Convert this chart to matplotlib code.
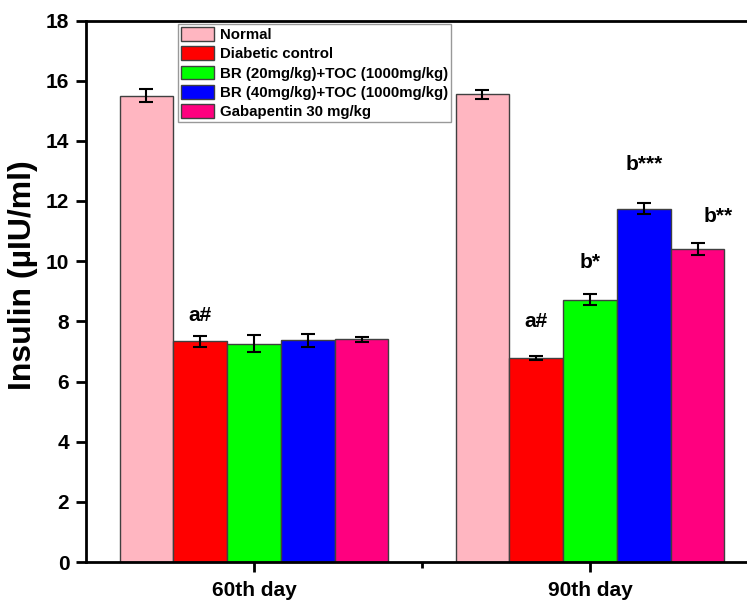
import numpy as np
import matplotlib.pyplot as plt

plt.rcParams['font.family'] = ['Liberation Sans', 'DejaVu Sans']
plt.rcParams['font.weight'] = 'bold'

# data
days = ['60th day', '90th day']
groups = ['Normal', 'Diabetic control', 'BR (20mg/kg)+TOC (1000mg/kg)',
          'BR (40mg/kg)+TOC (1000mg/kg)', 'Gabapentin 30 mg/kg']
colors = ['#FFB6C1', '#FF0000', '#00FF00', '#0000FF', '#FF007F']
means = [[15.50, 15.55],
         [7.34, 6.78],
         [7.26, 8.72],
         [7.37, 11.75],
         [7.40, 10.42]]
errs = [[0.22, 0.15],
        [0.18, 0.07],
        [0.28, 0.18],
        [0.22, 0.18],
        [0.08, 0.20]]
# significance labels: (day index, group index, text, y)
labels = [(0, 1, 'a#', 8.2), (1, 1, 'a#', 8.0), (1, 2, 'b*', 9.95),
          (1, 3, 'b***', 13.2), (1, 4, 'b**', 11.5)]

fig = plt.figure(figsize=(7.47, 6.02), dpi=100)
# axes right edge lies outside the figure (reference is cropped)
ax = fig.add_axes([86/747, 40/602, (758-86)/747, (562-20.5)/602])

x = np.arange(1, len(days) + 1)
w = 0.16
for i in range(len(groups)):
    pos = x + (i - 2) * w
    ax.bar(pos, means[i], w, color=colors[i], edgecolor='#404040', linewidth=1,
           label=groups[i], zorder=2)
    ax.errorbar(pos, means[i], yerr=errs[i], fmt='none', ecolor='black',
                elinewidth=1.5, capsize=5, capthick=1.5, zorder=3)

for d, g, t, y in labels:
    xx = x[d] + (g - 2) * w
    if t == 'b**':
        xx += 0.06
    ax.text(xx, y, t, ha='center', va='center', fontsize=15, fontweight='bold')

ax.set_xlim(0.5, 2.5)
ax.set_ylim(0, 18)
ax.set_yticks(np.arange(0, 19, 2))
ax.set_xticks(x)
ax.set_xticklabels(days)
ax.set_xticks([1.5], minor=True)
ax.tick_params(axis='both', which='both', direction='out', width=2, labelsize=15)
ax.tick_params(axis='both', which='major', length=7)
ax.tick_params(axis='x', which='minor', length=4)
ax.tick_params(axis='x', pad=7)
ax.tick_params(axis='y', pad=5)
for s in ax.spines.values():
    s.set_linewidth(2)
ax.set_ylabel('Insulin (µIU/ml)', fontsize=23, fontweight='bold')
ax.yaxis.set_label_coords(-0.071, 0.53)

leg = ax.legend(loc='upper left', fontsize=10.8, frameon=True,
                fancybox=False, edgecolor='#808080', handlelength=2.2,
                handleheight=1.05, labelspacing=0.28, borderpad=0.2,
                handletextpad=0.4, borderaxespad=0)
leg.set_bbox_to_anchor((178/747, 1 - 24/602), transform=fig.transFigure)
leg.get_frame().set_linewidth(1)

fig.savefig('out.png', dpi=100)
